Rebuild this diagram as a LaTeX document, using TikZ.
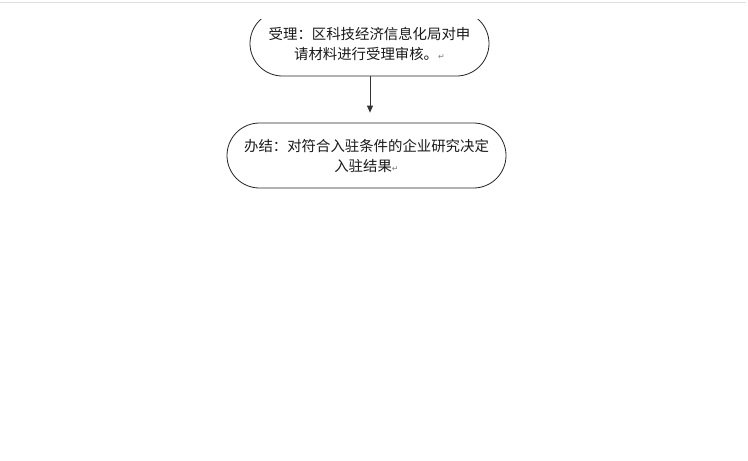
\documentclass[tikz,border=0pt]{standalone}
\usepackage{fontspec}
\newfontfamily\cjk{Noto Sans CJK SC}
\newfontfamily\dejavu{DejaVu Sans}
\usetikzlibrary{shapes.misc,arrows.meta}
\newcommand{\parmark}{\textcolor{black!50}{\dejavu\fontsize{8}{8}\selectfont ↵}}
\tikzset{
  termbox/.style={rounded rectangle, rounded rectangle arc length=180, draw=black!85, line width=0.8pt,
    align=center, inner sep=0pt, font=\cjk\fontsize{14.4}{20}\selectfont, text=black!90},
  flowarrow/.style={draw=black!80, line width=0.8pt, -{Triangle[width=6pt,length=7pt]}}
}
\begin{document}
\begin{tikzpicture}[x=1pt,y=-1pt]
\useasboundingbox (0,0) rectangle (748,461);
\fill[white] (0,0) rectangle (748,461);
\draw[black!12, line width=1pt] (0,2.5) -- (746,2.5);
\begin{scope}
  \clip (0,19) rectangle (748,461);
  \node[termbox, minimum width=239pt, minimum height=65pt] (a) at (369.5,43.5)
    {受理：区科技经济信息化局对申\\请材料进行受理审核。\parmark};
\end{scope}
\node[termbox, minimum width=279pt, minimum height=65pt] (b) at (366.5,155.5)
  {办结：对符合入驻条件的企业研究决定\\入驻结果\parmark};
\draw[flowarrow, shorten >=10pt] ([xshift=0.5pt]a.south) -- ([xshift=0.5pt]a.south |- b.north);
\end{tikzpicture}
\end{document}
